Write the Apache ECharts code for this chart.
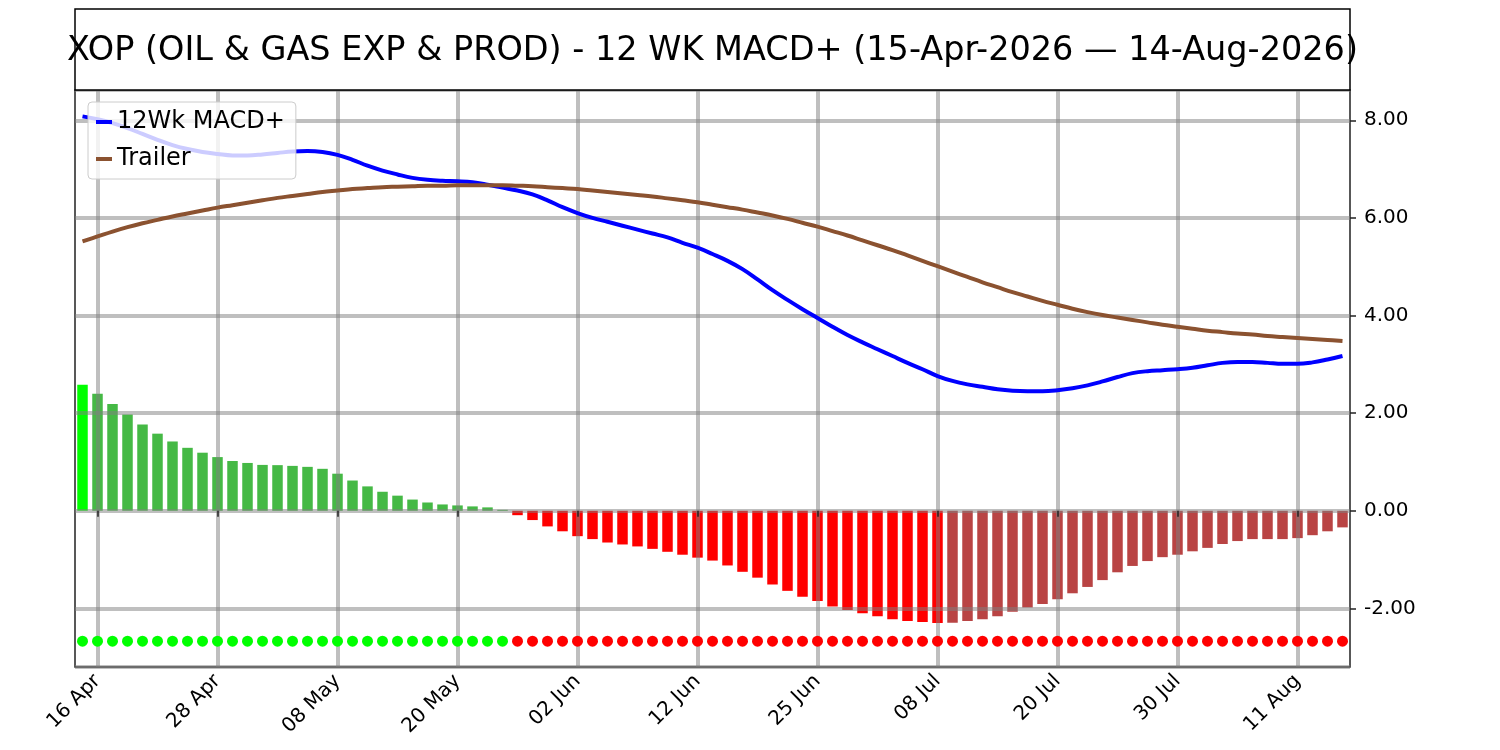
<!DOCTYPE html>
<html>
<head>
<meta charset="utf-8">
<script src="https://cdn.jsdelivr.net/npm/echarts@6/dist/echarts.min.js"></script>
<style>
html,body{margin:0;padding:0;background:#fff;}
#chart{width:1500px;height:750px;}
</style>
</head>
<body>
<div id="chart"></div>
<script>
// Trading days 15 Apr 2026 - 14 Aug 2026
const categories = [
  '15 Apr','16 Apr','17 Apr','20 Apr','21 Apr','22 Apr','23 Apr','24 Apr','27 Apr','28 Apr','29 Apr','30 Apr',
  '01 May','04 May','05 May','06 May','07 May','08 May','11 May','12 May','13 May','14 May','15 May','18 May','19 May','20 May','21 May','22 May','26 May','27 May','28 May','29 May',
  '01 Jun','02 Jun','03 Jun','04 Jun','05 Jun','08 Jun','09 Jun','10 Jun','11 Jun','12 Jun','15 Jun','16 Jun','17 Jun','18 Jun','22 Jun','23 Jun','24 Jun','25 Jun','26 Jun','29 Jun','30 Jun',
  '01 Jul','02 Jul','06 Jul','07 Jul','08 Jul','09 Jul','10 Jul','13 Jul','14 Jul','15 Jul','16 Jul','17 Jul','20 Jul','21 Jul','22 Jul','23 Jul','24 Jul','27 Jul','28 Jul','29 Jul','30 Jul','31 Jul',
  '03 Aug','04 Aug','05 Aug','06 Aug','07 Aug','10 Aug','11 Aug','12 Aug','13 Aug','14 Aug'
];

const histogram = [
  2.58, 2.40, 2.19, 1.97, 1.77, 1.58, 1.42, 1.29, 1.19, 1.10, 1.02, 0.98, 0.94, 0.935, 0.92, 0.90, 0.86, 0.76, 0.62, 0.50,
  0.39, 0.31, 0.23, 0.17, 0.13, 0.11, 0.09, 0.07, 0.02,
  -0.09, -0.19, -0.32, -0.42, -0.52, -0.58, -0.65, -0.69, -0.73, -0.78, -0.84, -0.90, -0.96, -1.02, -1.12, -1.25, -1.37,
  -1.51, -1.64, -1.76, -1.85, -1.96, -2.03, -2.10, -2.16, -2.22, -2.26, -2.28, -2.30, -2.295, -2.26, -2.22, -2.16, -2.07,
  -1.98, -1.91, -1.81, -1.69, -1.56, -1.42, -1.26, -1.13, -1.03, -0.95, -0.90, -0.83, -0.76, -0.68, -0.62, -0.58, -0.58,
  -0.58, -0.56, -0.50, -0.42, -0.34
];

const macdPlus = [
  8.08, 8.02, 7.94, 7.84, 7.72, 7.60, 7.49, 7.41, 7.35, 7.31, 7.28, 7.28, 7.30, 7.33, 7.36, 7.37, 7.35, 7.29, 7.19, 7.07,
  6.97, 6.89, 6.82, 6.78, 6.76, 6.75, 6.73, 6.68, 6.62, 6.56, 6.48, 6.36, 6.22, 6.10, 6.00, 5.92, 5.84, 5.76, 5.68, 5.60,
  5.49, 5.39, 5.26, 5.12, 4.95, 4.74, 4.52, 4.32, 4.13, 3.95, 3.77, 3.60, 3.45, 3.31, 3.17, 3.03, 2.90, 2.76, 2.66, 2.59,
  2.54, 2.49, 2.46, 2.45, 2.45, 2.47, 2.51, 2.57, 2.65, 2.74, 2.82, 2.86, 2.88, 2.90, 2.93, 2.98, 3.03, 3.05, 3.05, 3.03,
  3.01, 3.01, 3.04, 3.10, 3.17
];

const trailer = [
  5.52, 5.62, 5.72, 5.81, 5.89, 5.96, 6.03, 6.09, 6.15, 6.21, 6.26, 6.31, 6.36, 6.41, 6.45, 6.49, 6.53, 6.56, 6.59, 6.61,
  6.63, 6.64, 6.65, 6.66, 6.66, 6.67, 6.67, 6.67, 6.67, 6.66, 6.65, 6.63, 6.61, 6.59, 6.56, 6.53, 6.50, 6.47, 6.44, 6.40,
  6.36, 6.32, 6.27, 6.22, 6.17, 6.11, 6.05, 5.98, 5.90, 5.82, 5.73, 5.64, 5.54, 5.44, 5.34, 5.23, 5.12, 5.01, 4.90, 4.79,
  4.68, 4.58, 4.48, 4.39, 4.30, 4.22, 4.14, 4.07, 4.01, 3.96, 3.91, 3.86, 3.81, 3.77, 3.73, 3.69, 3.66, 3.63, 3.61, 3.58,
  3.56, 3.54, 3.52, 3.50, 3.48
];

const DOT_LEVEL = -2.67;
const yTickValues = [-2, 0, 2, 4, 6, 8];

const titleText = 'XOP (OIL & GAS EXP & PROD) - 12 WK MACD+ (15-Apr-2026 \u2014 14-Aug-2026)';
const FONT = 'DejaVu Sans';

function barColor(i) {
  const v = histogram[i];
  const prev = i > 0 ? histogram[i - 1] : -Infinity;
  if (v >= 0) return (i === 0 || v > prev) ? '#00ff00' : '#45b945';
  return (v < prev) ? '#ff0000' : '#b94444';
}

const labelShown = (idx) => (idx - 1) % 8 === 0 && idx >= 1;

const chart = echarts.init(document.getElementById('chart'), null, {renderer: 'canvas'});
const gridStyle = {color: 'rgba(128,128,128,0.5)', width: 4};

chart.setOption({
  animation: false,
  backgroundColor: '#ffffff',
  textStyle: {fontFamily: FONT},
  graphic: [
    {
      type: 'rect', z: 10,
      shape: {x: 75, y: 9, width: 1275, height: 81},
      style: {fill: '#ffffff', stroke: '#000000', lineWidth: 1.5}
    },
    {
      type: 'text', z: 11,
      x: 712.5, y: 51,
      style: {
        text: titleText, fill: '#000000', font: '33.5px "DejaVu Sans"',
        align: 'center', verticalAlign: 'middle'
      }
    }
  ],
  grid: {
    left: 75, right: 150, top: 90, bottom: 83,
    show: true, borderColor: '#222222', borderWidth: 1.5, backgroundColor: 'transparent'
  },
  legend: {
    orient: 'vertical', left: 88, top: 102, z: 20,
    data: [{name: '12Wk MACD+', icon: 'rect'}, {name: 'Trailer', icon: 'rect'}],
    itemWidth: 16, itemHeight: 4, itemGap: 13,
    padding: [8, 11, 8, 8],
    backgroundColor: 'rgba(255,255,255,0.8)',
    borderColor: '#cccccc', borderWidth: 1, borderRadius: 4,
    textStyle: {fontSize: 24, color: '#000000', fontFamily: FONT}
  },
  xAxis: {
    type: 'category', data: categories, boundaryGap: true, z: 2,
    axisLine: {show: false},
    axisTick: {show: true, alignWithLabel: true, interval: labelShown, length: 6,
      lineStyle: {color: '#222222', width: 1.5}},
    axisLabel: {interval: labelShown, rotate: 45, fontSize: 20, color: '#000000', margin: 11, fontFamily: FONT},
    splitLine: {show: true, alignWithLabel: true, interval: labelShown, lineStyle: gridStyle}
  },
  yAxis: {
    type: 'value', position: 'right', min: -3.20, max: 8.62, splitNumber: 5, z: 2,
    axisLine: {show: false},
    axisTick: {show: true, length: 6, lineStyle: {color: '#222222', width: 1.5}},
    axisLabel: {
      fontSize: 20, color: '#000000', margin: 14, fontFamily: FONT,
      showMinLabel: false, showMaxLabel: false,
      formatter: (v) => yTickValues.some(t => Math.abs(t - v) < 1e-6) ? v.toFixed(2) : ''
    },
    splitLine: {show: true, lineStyle: gridStyle}
  },
  series: [
    {
      name: 'Histogram', type: 'bar', z: 1, barWidth: '70%',
      data: histogram.map((v, i) => ({value: v, itemStyle: {color: barColor(i)}}))
    },
    {
      name: '12Wk MACD+', type: 'line', z: 4, data: macdPlus, color: '#0000ff',
      showSymbol: false, smooth: 0.4, lineStyle: {width: 4, color: '#0000ff'}
    },
    {
      name: 'Trailer', type: 'line', z: 4, data: trailer, color: '#8b5230',
      showSymbol: false, smooth: 0.4, lineStyle: {width: 4, color: '#8b5230'}
    },
    {
      name: 'Signal', type: 'scatter', z: 4, symbolSize: 11,
      data: categories.map((c, i) => ({value: DOT_LEVEL, itemStyle: {opacity: 1, color: histogram[i] > 0 ? '#00ff00' : '#ff0000'}}))
    }
  ]
});
</script>
</body>
</html>
